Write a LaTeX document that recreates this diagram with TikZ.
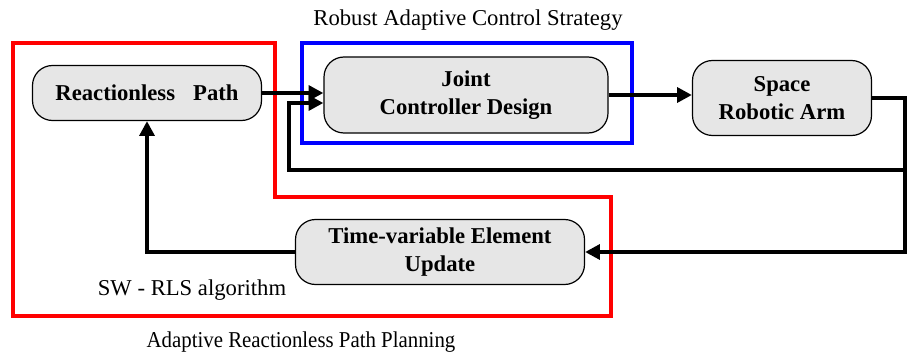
\documentclass[tikz,border=0pt]{standalone}
\usepackage{fontspec}
\setmainfont{Liberation Serif}
\definecolor{zred}{RGB}{255,0,0}
\definecolor{zblue}{RGB}{0,0,255}
\definecolor{boxgray}{RGB}{230,230,230}
\usetikzlibrary{arrows.meta,positioning,calc}

\begin{document}
\begin{tikzpicture}[x=0.75pt, y=-0.75pt,
  pbox/.style={rectangle, rounded corners=15pt, draw=black, line width=0.9pt,
               fill=boxgray, font=\fontsize{17}{21}\selectfont\bfseries,
               align=center, inner sep=0pt},
  zone/.style={line width=3pt, line join=miter},
  lbl/.style={font=\fontsize{17}{21}\selectfont, inner sep=0pt},
  farr/.style={-{Triangle[length=11pt, width=11pt]}, line width=3pt}
]
\useasboundingbox (0,0) rectangle (907,353);

% Outlines of the two parts
\draw[zone, draw=zred] (13,43) -- (275,43) -- (275,197) -- (611,197)
  -- (611,316) -- (13,316) -- cycle;
\draw[zone, draw=zblue] (302,43) rectangle (632,143);

% Blocks
\node[pbox, minimum width=171.75pt, minimum height=41.25pt] (rp) at (147,93)  {Reactionless\hspace{0.8em}Path};
\node[pbox, minimum width=213pt,    minimum height=57pt]    (jc) at (466,95)  {Joint\\Controller Design};
\node[pbox, minimum width=134.25pt, minimum height=56.25pt] (sa) at (782,98)  {Space\\Robotic Arm};
\node[pbox, minimum width=216.75pt, minimum height=48.75pt] (te) at (440,252) {Time-variable Element\\Update};

% Labels
\node[lbl] (rac)  at (468,20)  {Robust Adaptive Control Strategy};
\node[lbl] (swr)  at (192,290) {SW - RLS algorithm};
\node[lbl] (arpp) at (301,342) {\scalebox{0.92}[1]{Adaptive Reactionless Path Planning}};

% Corner points of the feedback lines
\coordinate (rc) at (905,170);
\coordinate (lc) at (289,170);

% Arrows
\draw[farr] (rp.east) -- (rp.east -| jc.west);
\draw[farr] (jc.east) -- (jc.east -| sa.west);
\draw[farr] (sa.east) -| (rc) |- (te.east);
\draw[farr] (rc) -- (lc) |- ([yshift=-6pt]jc.west);
\draw[farr] (te.west) -| (rp.south);
\end{tikzpicture}
\end{document}
